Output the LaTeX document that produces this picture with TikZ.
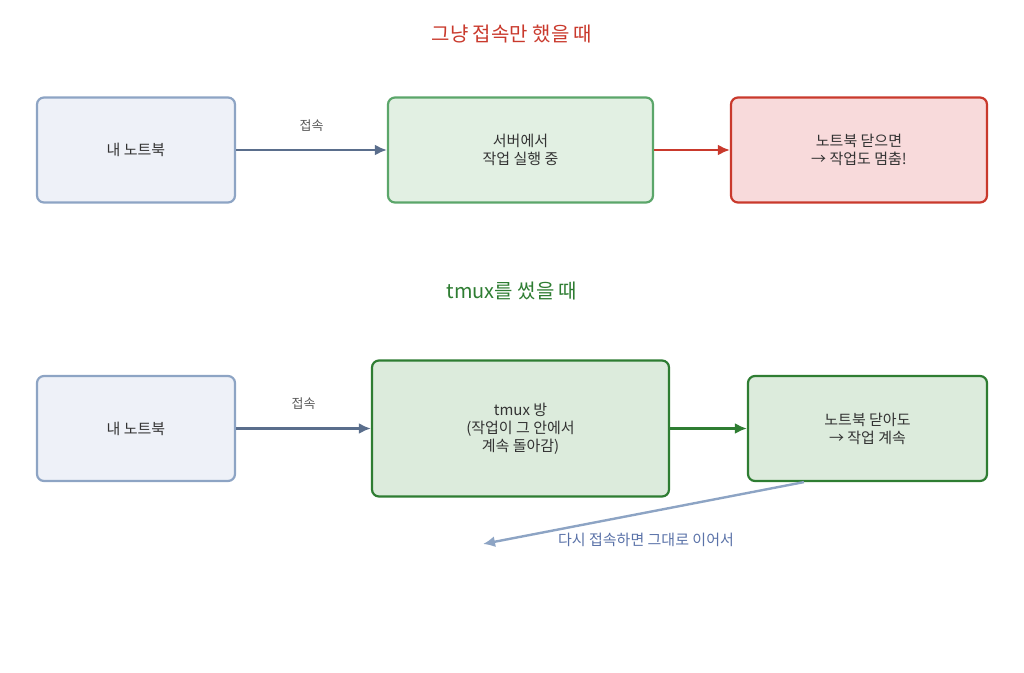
\documentclass[tikz,border=0pt]{standalone}
\usepackage{fontspec}
\setmainfont{Noto Sans CJK KR}
\usetikzlibrary{arrows.meta,positioning}

\definecolor{laptopfill}{HTML}{EEF1F8}
\definecolor{laptopline}{HTML}{8DA4C4}
\definecolor{serverfill}{HTML}{E2F0E3}
\definecolor{serverline}{HTML}{5BA66A}
\definecolor{stopfill}{HTML}{F8DADB}
\definecolor{stopline}{HTML}{C9392C}
\definecolor{tmuxfill}{HTML}{DCEBDC}
\definecolor{tmuxline}{HTML}{2E7D32}
\definecolor{linkline}{HTML}{5A6E8C}
\definecolor{backtext}{HTML}{5A72A8}
\definecolor{bodytext}{HTML}{333333}

\begin{document}
\begin{tikzpicture}[x=1pt,y=-1pt,>={Latex[length=12pt,width=11pt]},font=\fontsize{15}{18}\selectfont,text=bodytext]
\tikzstyle{box}=[rounded corners=7pt,line width=2.2pt,align=center,inner sep=0pt]
\tikzstyle{laptop box}=[box,draw=laptopline,fill=laptopfill,minimum width=198pt,minimum height=105pt]
\tikzstyle{server box}=[box,draw=serverline,fill=serverfill,minimum width=265pt,minimum height=105pt]
\tikzstyle{stop box}=[box,draw=stopline,fill=stopfill,minimum width=256pt,minimum height=105pt]
\tikzstyle{tmux box}=[box,draw=tmuxline,fill=tmuxfill]
\tikzstyle{link}=[->,line width=2.4pt]
\tikzstyle{link label}=[font=\fontsize{13}{15}\selectfont,text=black!65]
\tikzstyle{title}=[font=\fontsize{20}{24}\selectfont]

\useasboundingbox (0,0) rectangle (1024,672);

% Plain connection
\node[title,text=stopline] (T1) at (512,34) {그냥 접속만 했을 때};
\node[laptop box] (A1) at (136,150) {내 노트북};
\node[server box] (B1) at (520.5,150) {서버에서\\작업 실행 중};
\node[stop box] (C1) at (859,150) {노트북 닫으면\\→ 작업도 멈춤!};

\draw[link,draw=linkline] (A1) -- (B1) node[link label,midway,above=14pt] {접속};
\draw[link,draw=stopline] (B1) -- (C1);

% With tmux
\node[title,text=tmuxline] (T2) at (512,291) {tmux를 썼을 때};
\node[laptop box] (A2) at (136,428.5) {내 노트북};
\node[tmux box,minimum width=297pt,minimum height=136pt] (B2) at (520.5,428.5) {tmux 방\\(작업이 그 안에서\\계속 돌아감)};
\node[tmux box,minimum width=239pt,minimum height=105pt] (C2) at (867.5,428.5) {노트북 닫아도\\→ 작업 계속};

\draw[link,draw=linkline] (A2) -- (B2) node[link label,midway,above=14pt] {접속};
\draw[link,draw=tmuxline] (B2) -- (C2);

% Coming back
\coordinate (R) at (483,544);
\draw[link,draw=laptopline] (C2.south west) ++(57,0) -- (R);
\node[text=backtext] (RL) at (646,540) {다시 접속하면 그대로 이어서};

\end{tikzpicture}
\end{document}
